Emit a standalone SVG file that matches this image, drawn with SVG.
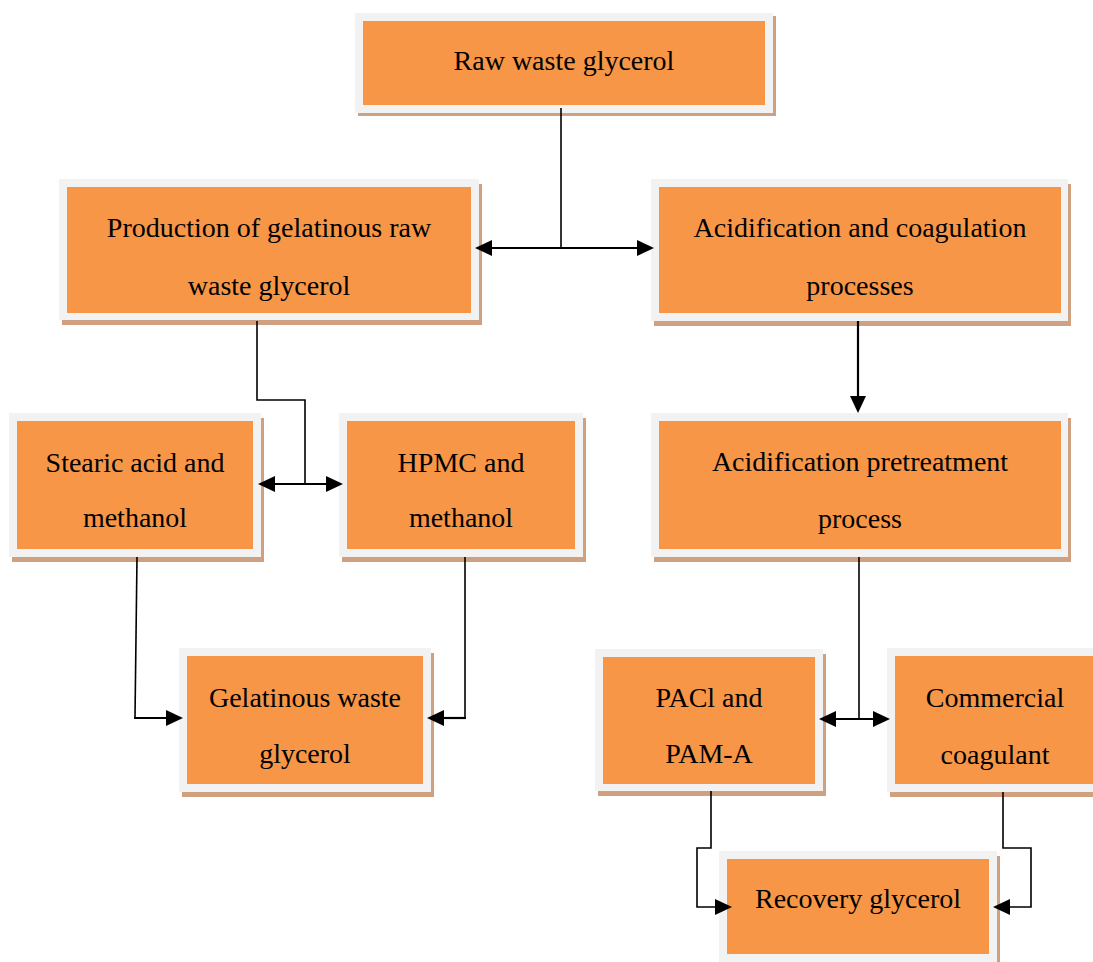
<svg xmlns="http://www.w3.org/2000/svg" width="1093" height="962" viewBox="0 0 1093 962">
<style>
.sh{fill:#cfa180}
.fr{fill:#f2f2f2}
.in{fill:#f79646}
.t{font-family:"Liberation Serif","Times New Roman",serif;font-size:28px;fill:#000;text-anchor:middle}
.ln{fill:none;stroke:#000;stroke-width:1.6}
.ar{fill:none;stroke:#000;stroke-width:2.2}
</style>
<defs>
<marker id="ah" markerUnits="userSpaceOnUse" markerWidth="17" markerHeight="16" viewBox="0 0 17 16" refX="7" refY="8" orient="auto-start-reverse"><path d="M0,0 L17,8 L0,16 z" fill="#000"/></marker>
</defs>
<rect width="1093" height="962" fill="#fff"/>

<g id="raw">
<rect class="sh" x="358" y="16" width="418" height="100"/>
<rect class="fr" x="355" y="13" width="418" height="100"/>
<rect class="in" x="363" y="21" width="402" height="84"/>
<text class="t" x="564" y="70">Raw waste glycerol</text>
</g>

<g id="production">
<rect class="sh" x="62" y="184" width="420" height="141"/>
<rect class="fr" x="59" y="179" width="420" height="141"/>
<rect class="in" x="67" y="187" width="404" height="126"/>
<text class="t" x="269" y="237">Production of gelatinous raw</text>
<text class="t" x="269" y="295">waste glycerol</text>
</g>

<g id="acid-coag">
<rect class="sh" x="654" y="184" width="417" height="142"/>
<rect class="fr" x="651" y="179" width="417" height="142"/>
<rect class="in" x="659" y="187" width="402" height="126"/>
<text class="t" x="860" y="237">Acidification and coagulation</text>
<text class="t" x="860" y="295">processes</text>
</g>

<g id="acid-pre">
<rect class="sh" x="654" y="418" width="417" height="144"/>
<rect class="fr" x="651" y="413" width="417" height="144"/>
<rect class="in" x="659" y="421" width="402" height="128"/>
<text class="t" x="860" y="471">Acidification pretreatment</text>
<text class="t" x="860" y="528">process</text>
</g>

<g id="stearic">
<rect class="sh" x="12" y="418" width="252" height="144"/>
<rect class="fr" x="9" y="413" width="252" height="144"/>
<rect class="in" x="17" y="421" width="236" height="128"/>
<text class="t" x="135" y="472">Stearic acid and</text>
<text class="t" x="135" y="527">methanol</text>
</g>

<g id="hpmc">
<rect class="sh" x="342" y="418" width="244" height="144"/>
<rect class="fr" x="339" y="413" width="244" height="144"/>
<rect class="in" x="347" y="421" width="228" height="128"/>
<text class="t" x="461" y="472">HPMC and</text>
<text class="t" x="461" y="527">methanol</text>
</g>

<g id="gelatinous">
<rect class="sh" x="182" y="653" width="252" height="144"/>
<rect class="fr" x="179" y="648" width="252" height="144"/>
<rect class="in" x="187" y="656" width="236" height="128"/>
<text class="t" x="305" y="707">Gelatinous waste</text>
<text class="t" x="305" y="763">glycerol</text>
</g>

<g id="pacl">
<rect class="sh" x="598" y="654" width="228" height="142"/>
<rect class="fr" x="595" y="649" width="228" height="142"/>
<rect class="in" x="603" y="657" width="212" height="127"/>
<text class="t" x="709" y="707">PACl and</text>
<text class="t" x="709" y="763">PAM-A</text>
</g>

<g id="commercial">
<rect class="sh" x="890" y="653" width="214" height="144"/>
<rect class="fr" x="887" y="648" width="214" height="144"/>
<rect class="in" x="895" y="656" width="199" height="128"/>
<text class="t" x="995" y="707">Commercial</text>
<text class="t" x="995" y="764">coagulant</text>
</g>

<g id="recovery">
<rect class="sh" x="722" y="856" width="278" height="112"/>
<rect class="fr" x="719" y="851" width="278" height="112"/>
<rect class="in" x="727" y="859" width="262" height="95"/>
<text class="t" x="858" y="908">Recovery glycerol</text>
</g>

<g id="connectors">
<path class="ln" d="M561,108 V247"/>
<path class="ar" d="M485,248 H644" marker-start="url(#ah)" marker-end="url(#ah)"/>
<path class="ln" d="M257,321 V400 H305 V483"/>
<path class="ar" d="M268,484 H333" marker-start="url(#ah)" marker-end="url(#ah)"/>
<path class="ar" d="M858,321 V403" marker-end="url(#ah)"/>
<path class="ln" d="M137,557 L135,717"/>
<path class="ar" d="M134,718 H173" marker-end="url(#ah)"/>
<path class="ln" d="M465,557 V717"/>
<path class="ar" d="M466,718 H437" marker-end="url(#ah)"/>
<path class="ln" d="M859,557 V718"/>
<path class="ar" d="M829,719 H880" marker-start="url(#ah)" marker-end="url(#ah)"/>
<path class="ln" d="M711,791 V848 H697 V907 H722" marker-end="url(#ah)"/>
<path class="ln" d="M1003,792 V848 H1031 V907 H1003" marker-end="url(#ah)"/>
</g>
</svg>
